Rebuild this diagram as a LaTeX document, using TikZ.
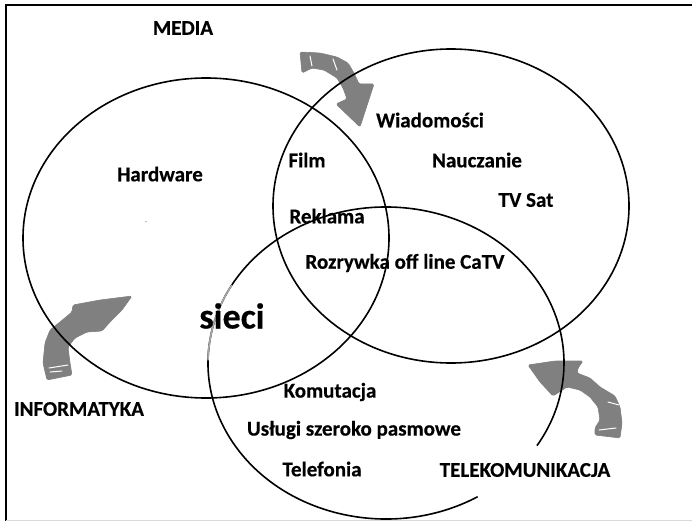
\documentclass[tikz,border=0pt]{standalone}
\usepackage{fontspec}
\setmainfont{Carlito}[BoldFeatures={FakeBold=0.4}]
\definecolor{arrowgray}{RGB}{128,128,128}
\begin{document}
\begin{tikzpicture}[x=1pt,y=-1pt,
  ring/.style={line width=1.6pt},
  lbl/.style={font=\bfseries\fontsize{21}{25}\selectfont, inner sep=0pt},
  fat/.style={fill=arrowgray, draw=arrowgray, line width=0.6pt, line join=round, rounded corners=1.5pt},
  streak/.style={white, line width=1pt, line cap=round}]
\useasboundingbox (0,0) rectangle (692,521);
\fill[white] (0,0) rectangle (692,521);
% frame
\draw[line width=2pt] (6,521) -- (6,5) -- (692,5);
\draw[black!15, line width=0.8pt] (6,520) -- (692,520);
% centres
\coordinate (cA) at (206,238);
\coordinate (cB) at (451,206);
\coordinate (cC) at (386,363);
% arrows
\path[fat] (300,52) -- (320,53) -- (337,57) -- (348,63) -- (354,73) -- (359,84) -- (374,84) -- (360,127) -- (336,104) -- (347,99) -- (343,88) -- (337,78) -- (324,70) -- (312,68) -- (302,73) -- cycle;
\draw[streak] (310,56) -- (312,66);
\draw[streak] (333,59) -- (337,70);
\path[fat] (47,380) -- (43,363) -- (45,343) -- (50,330) -- (60,322) -- (72,312) -- (73,305) -- (100,300) -- (132,296) -- (122,310) -- (110,322) -- (102,331) -- (87,332) -- (75,338) -- (68,347) -- (70,363) -- (72,375) -- cycle;
\draw[streak] (49,368) -- (68,365);
\draw[streak] (50,372) -- (62,371);
\path[fat] (528,365) -- (555,361) -- (583,361) -- (578,368) -- (577,373) -- (590,378) -- (600,387) -- (615,396) -- (620,407) -- (622,423) -- (620,438) -- (595,435) -- (595,428) -- (600,420) -- (598,407) -- (590,397) -- (580,390) -- (567,387) -- (553,396) -- (540,382) -- cycle;
\draw[streak] (608,402) -- (619,405);
\draw[streak] (599,430) -- (616,428);
% circles
\draw[ring] (cA) ellipse [x radius=183, y radius=160];
\draw[ring] (cB) ellipse [x radius=178, y radius=157];
\draw[ring] (cC) ++(59:178 and 156) arc[start angle=59, end angle=392, x radius=178, y radius=156];
\draw[ring, gray!70] (cC) ++(181:178 and 156) arc[start angle=181, end angle=210, x radius=178, y radius=156];
% labels
\node[lbl] (media) at (183,28) {MEDIA};
\node[lbl] (wiad) at (430,120) {Wiadomości};
\node[lbl] (film) at (307,160) {Film};
\node[lbl] (naucz) at (477,160) {Nauczanie};
\node[lbl] (hard) at (160,174) {Hardware};
\node[lbl] (tvsat) at (526,200) {TV Sat};
\node[lbl] (rekl) at (327,216) {Reklama};
\node[lbl] (rozr) at (405,263) {Rozrywka off line CaTV};
\node[lbl, font=\bfseries\fontsize{36}{40}\selectfont] (sieci) at (232,316) {sieci};
\node[lbl] (komut) at (330,392) {Komutacja};
\node[lbl] (uslugi) at (354,430) {Usługi szeroko pasmowe};
\node[lbl] (inf) at (79,409) {INFORMATYKA};
\node[lbl] (tel) at (322,469) {Telefonia};
\node[lbl] (tk) at (525,470) {TELEKOMUNIKACJA};
\node[gray, inner sep=0pt, font=\fontsize{8}{8}\selectfont] (dash) at (146,223) {-};
\end{tikzpicture}
\end{document}
